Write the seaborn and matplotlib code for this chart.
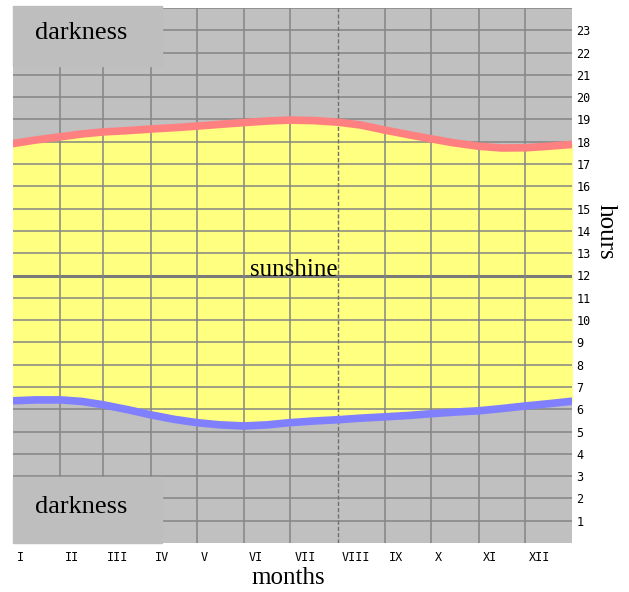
import seaborn as sns
import pandas as pd
import matplotlib.pyplot as plt
from matplotlib.patches import Rectangle
from matplotlib.transforms import ScaledTranslation

# Data (day of year -> hour of sunrise / sunset)
days = [0, 15, 31, 45, 59, 75, 90, 105, 120, 135, 151, 166, 181,
        196, 212, 227, 243, 258, 273, 288, 304, 319, 335, 350, 365]
sunset = [17.92, 18.08, 18.22, 18.35, 18.44, 18.50, 18.57, 18.63, 18.70, 18.78, 18.86, 18.93, 18.97,
          18.95, 18.88, 18.75, 18.52, 18.32, 18.13, 17.95, 17.80, 17.72, 17.73, 17.80, 17.88]
sunrise = [6.38, 6.42, 6.42, 6.35, 6.20, 5.98, 5.75, 5.55, 5.40, 5.30, 5.25, 5.30, 5.40,
           5.47, 5.53, 5.60, 5.66, 5.72, 5.80, 5.87, 5.93, 6.03, 6.15, 6.25, 6.36]
month_starts = [0, 31, 59, 90, 120, 151, 181, 212, 243, 273, 304, 334]
month_labels = ['I', 'II', 'III', 'IV', 'V', 'VI', 'VII', 'VIII', 'IX', 'X', 'XI', 'XII']
hour_ticks = list(range(1, 24))

df = pd.DataFrame({"day": days, "sunrise": sunrise, "sunset": sunset})

sns.set_style("white")
plt.rcParams['font.family'] = ['DejaVu Sans']
plt.rcParams['text.color'] = 'black'
plt.rcParams['xtick.color'] = 'black'
plt.rcParams['ytick.color'] = 'black'

fig = plt.figure(figsize=(6.29, 5.92), dpi=100)
ax = fig.add_axes([13 / 629, 49 / 592, 559 / 629, 535 / 592])
ax.set_facecolor('#c0c0c0')

# sunshine area
ax.fill_between(df["day"], df["sunrise"], df["sunset"], color='#ffff80', zorder=1)

# grid
for h in range(1, 25):
    if h == 12:
        ax.axhline(h, color='#7a7a7a', lw=2.2, zorder=2)
    else:
        ax.axhline(h, color='#858585', lw=1.1, zorder=2)
for d in month_starts[1:]:
    if d == 212:
        ax.axvline(d, color='#707070', lw=1.0, ls=(0, (3, 1.5)), zorder=2)
    else:
        ax.axvline(d, color='#858585', lw=1.1, zorder=2)

sns.lineplot(data=df, x="day", y="sunset", color='#ff8080', lw=5.5, ax=ax, zorder=3)
sns.lineplot(data=df, x="day", y="sunrise", color='#8080ff', lw=5.5, ax=ax, zorder=3)

ax.set_xlim(0, 365)
ax.set_ylim(0, 24)
for s in ax.spines.values():
    s.set_visible(False)

ax.yaxis.tick_right()
ax.set_yticks(hour_ticks)
ax.set_yticklabels([str(h) for h in hour_ticks], family='DejaVu Sans Mono', fontsize=8.5)
ax.set_xticks(month_starts)
ax.set_xticklabels(month_labels, family='DejaVu Sans Mono', fontsize=8.5, ha='left')
ax.tick_params(length=0, pad=3, colors='black')
ax.tick_params(axis='x', pad=6)
off = ScaledTranslation(4 / 100, 0, fig.dpi_scale_trans)
for lbl in ax.get_xticklabels():
    lbl.set_transform(lbl.get_transform() + off)

ax.set_xlabel("")
ax.set_ylabel("")

serif = ['Liberation Serif', 'DejaVu Serif']
ax.text(183.5, 12.25, "sunshine", family=serif, fontsize=18, color='black',
        ha='center', va='center', zorder=5)
fig.text(288 / 629, 1 - 578 / 592, "months", family=serif, fontsize=18, color='black',
         ha='center', va='center')
fig.text(606 / 629, 1 - 232 / 592, "hours", family=serif, fontsize=18, color='black',
         ha='center', va='center', rotation=270)

# darkness boxes
for y0, y1, ty in [(6, 66, 33), (477, 543, 507)]:
    fig.patches.append(Rectangle((13 / 629, 1 - y1 / 592), 149 / 629, (y1 - y0) / 592,
                                 transform=fig.transFigure, color='#bebebe', zorder=10))
    fig.text(81 / 629, 1 - ty / 592, "darkness", family=serif, fontsize=19, color='black',
             ha='center', va='center', zorder=11)

plt.savefig("out.png", dpi=100)
